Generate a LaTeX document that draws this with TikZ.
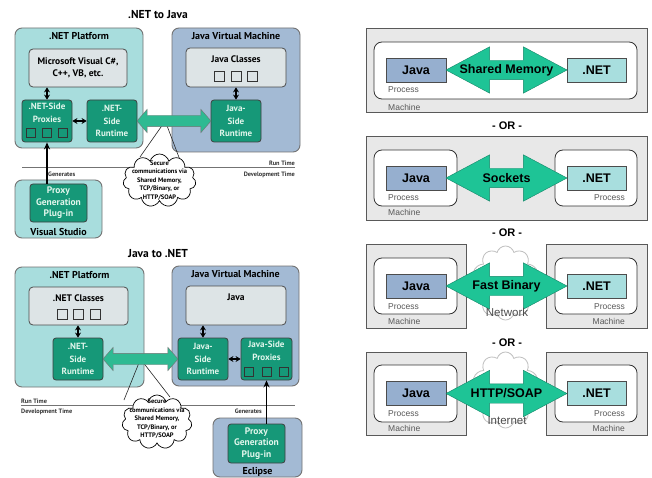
\documentclass[tikz,border=0pt]{standalone}
\usepackage{fontspec}
\setmainfont{PT Sans}
\newfontfamily\arialfont{Liberation Sans}
\usetikzlibrary{shapes.arrows,shapes.symbols,arrows.meta,calc,positioning}

\definecolor{netteal}{RGB}{168,221,221}
\definecolor{jvmblue}{RGB}{163,186,212}
\definecolor{innergray}{RGB}{221,228,230}
\definecolor{boxgreen}{RGB}{22,152,120}
\definecolor{gtext}{RGB}{225,246,236}
\definecolor{pipegreen}{RGB}{46,186,146}
\definecolor{wiregreen}{RGB}{30,196,150}
\definecolor{wireedge}{RGB}{20,135,105}
\definecolor{javablue}{RGB}{150,175,207}
\definecolor{netcyan}{RGB}{168,222,222}
\definecolor{machgray}{RGB}{232,232,232}

\newcommand{\fsz}[2]{\fontsize{#1}{#2}\selectfont}

\tikzset{
  platform/.style={draw=black!55, line width=0.9pt, rounded corners=7pt},
  ptag/.style={font=\bfseries\fsz{10}{12}, inner sep=0pt},
  btag/.style={font=\bfseries\fsz{9.5}{11}, inner sep=0pt},
  inbox/.style={draw=black!70, fill=innergray, line width=0.8pt, rounded corners=4pt},
  gbox/.style={draw=black!75, fill=boxgreen, line width=0.8pt, rounded corners=3pt,
    text=gtext, font=\bfseries\fsz{9}{12.5}, align=center,
    minimum width=50pt, minimum height=42pt, inner sep=0pt},
  sq/.style={draw=black!80, line width=0.7pt},
  link/.style={{Stealth[length=5pt,width=6pt]}-{Stealth[length=5pt,width=6pt]}, line width=1.8pt},
  gen/.style={-{Stealth[length=7pt,width=6pt]}, line width=1.6pt},
  pipe/.style={double arrow, draw=black!55, fill=pipegreen, double arrow tip angle=98,
    double arrow head extend=6pt, inner xsep=0pt, inner ysep=5.5pt},
  talk/.style={cloud, cloud puffs=11, cloud ignores aspect, draw=black, line width=0.7pt,
    fill=white, inner sep=0pt},
  talktext/.style={font=\bfseries\fsz{6.5}{8.5}, align=center},
  small/.style={font=\bfseries\fsz{6.3}{7}, text=black!80, inner sep=0pt},
  % right half
  machine/.style={draw=black!65, fill=machgray, line width=0.8pt},
  procbox/.style={draw=black!80, fill=white, line width=0.8pt, rounded corners=8pt},
  javabox/.style={draw=black!70, fill=javablue, minimum width=60pt, minimum height=24pt,
    font=\arialfont\bfseries\fsz{12.5}{14}, inner sep=0pt},
  netbox/.style={javabox, fill=netcyan, minimum width=59pt},
  wire/.style={double arrow, draw=wireedge, fill=wiregreen, double arrow tip angle=56,
    double arrow head extend=13.5pt, inner xsep=0pt, inner ysep=9.5pt, minimum height=121pt,
    label={[wiretext]center:#1}},
  wiretext/.style={font=\arialfont\bfseries\fsz{12.5}{14}, inner sep=0pt},
  tag/.style={font=\arialfont\fsz{8.5}{10}, text=black!65, inner sep=0pt},
  nettag/.style={font=\arialfont\fsz{11.5}{13}, text=black!70, inner sep=0pt},
  orsep/.style={font=\arialfont\bfseries\fsz{11}{13}},
  net/.style={cloud, cloud puffs=10, cloud ignores aspect, draw=black!25, fill=white,
    line width=0.8pt, inner sep=0pt},
}

\begin{document}
\begin{tikzpicture}[x=1pt,y=-1pt]
\path[use as bounding box, fill=white] (0,0) rectangle (652,478);

% .NET to Java
\node[font=\bfseries\fsz{11.5}{13}] (TitleA) at (158,15) {.NET to Java};
\node[platform, fill=netteal, minimum width=128pt, minimum height=120pt,
  label={[ptag,anchor=north,yshift=-5pt]north:.NET Platform}] (NetPlatformA) at (79,88) {};
\node[inbox, minimum width=98pt, minimum height=38pt, font=\bfseries\fsz{9.5}{12}, align=center]
  (LangsA) at (78,68) {Microsoft Visual C\#,\\C++, VB, etc.};
\node[gbox] (NetProxiesA) at (47,121) {.NET-Side\\Proxies\\\strut};
\node[gbox] (NetRuntimeA) at (112,121) {.NET-\\Side\\Runtime};
\foreach \dx in {-16,0,16}
  \draw[sq] ($(NetProxiesA.center)+(\dx,12)$) +(-4.5,-4.5) rectangle +(4.5,4.5);

\node[platform, fill=jvmblue, minimum width=128pt, minimum height=124pt,
  label={[ptag,anchor=north,yshift=-5pt]north:Java Virtual Machine}] (JvmA) at (236,90) {};
\node[inbox, minimum width=100pt, minimum height=39pt,
  label={[btag,anchor=north,yshift=-8pt]north:Java Classes}] (ClassesA) at (236,67.5) {};
\foreach \dx in {-16.5,0,16.5}
  \draw[sq] ($(ClassesA.center)+(\dx,8.5)$) +(-5,-5) rectangle +(5,5);
\node[gbox] (JavaRuntimeA) at (236,121) {Java-\\Side\\Runtime};

\draw[link] (NetProxiesA.north) -- (NetProxiesA.north |- LangsA.south);
\draw[link] (NetProxiesA.east) -- (NetRuntimeA.west);
\draw[link] (ClassesA.south) -- (JavaRuntimeA.north);

% run time / development time
\coordinate (SplitA1) at (22,167);
\coordinate (SplitA2) at (295,167);
\draw[black!55, line width=0.6pt] (SplitA1) -- (SplitA2);
\node[small, anchor=base east] (RunA) at (295,165.2) {Run Time};
\node[small, anchor=base east] (DevA) at (295,176.2) {Development Time};
\node[small, anchor=base west] (GenA) at (48,176.2) {Generates};

\node[platform, fill=netteal, minimum width=87pt, minimum height=58pt,
  label={[ptag,anchor=south,yshift=3pt]south:Visual Studio}] (StudioA) at (58.5,209) {};
\node[gbox, minimum width=57pt, minimum height=38pt, font=\bfseries\fsz{9.5}{11.5}]
  (PlugA) at (58.5,203) {Proxy\\Generation\\Plug-in};
\draw[gen] (PlugA.north -| NetProxiesA.south) -- (NetProxiesA.south);

% pipe + callout
\coordinate (TalkSpotA) at (159.5,180.5);
\draw[black!85, line width=0.6pt] ($(TalkSpotA)+(-19.5,-23.5)$)
  -- ($(NetRuntimeA.east)!0.38!(JavaRuntimeA.west)$) -- ($(TalkSpotA)+(20.5,-20.5)$);
\node[pipe, minimum height=74pt] (PipeA) at ($(NetRuntimeA.east)!0.5!(JavaRuntimeA.west)$) {};
\node[talk, minimum width=73pt, minimum height=53pt,
  label={[talktext]center:{Secure\\communications via\\Shared Memory,\\TCP/Binary, or\\HTTP/SOAP}}]
  (TalkA) at (TalkSpotA) {};

% Java to .NET
\node[font=\bfseries\fsz{11.5}{13}] (TitleB) at (158,254) {Java to .NET};
\node[platform, fill=netteal, minimum width=129pt, minimum height=120pt,
  label={[ptag,anchor=north,yshift=-5pt]north:.NET Platform}] (NetPlatformB) at (79.5,327) {};
\node[inbox, minimum width=99pt, minimum height=38pt,
  label={[btag,anchor=north,yshift=-7.5pt]north:.NET Classes}] (NetClassesB) at (78.5,306) {};
\foreach \dx in {-16.5,0,16.5}
  \draw[sq] ($(NetClassesB.center)+(\dx,8)$) +(-5,-5) rectangle +(5,5);
\node[gbox] (NetRuntimeB) at (78,359) {.NET-\\Side\\Runtime};

\node[platform, fill=jvmblue, minimum width=127pt, minimum height=120pt,
  label={[ptag,anchor=north,yshift=-5pt]north:Java Virtual Machine}] (JvmB) at (235.5,326) {};
\node[inbox, minimum width=100pt, minimum height=39pt,
  label={[btag,anchor=north,yshift=-8pt]north:Java}] (JavaB) at (236,305.5) {};
\node[gbox] (JavaRuntimeB) at (203,359) {Java-\\Side\\Runtime};
\node[gbox, minimum width=51pt] (JavaProxiesB) at (266.5,359) {Java-Side\\Proxies\\\strut};
\foreach \dx in {-17.5,0,17.5}
  \draw[sq] ($(JavaProxiesB.center)+(\dx,12.5)$) +(-4.5,-4.5) rectangle +(4.5,4.5);

\draw[link] (NetRuntimeB.north |- NetClassesB.south) -- (NetRuntimeB.north);
\draw[link] (JavaRuntimeB.north |- JavaB.south) -- (JavaRuntimeB.north);
\draw[link] (JavaRuntimeB.east) -- (JavaProxiesB.west);

\coordinate (SplitB1) at (21,405);
\coordinate (SplitB2) at (295,405);
\draw[black!55, line width=0.6pt] (SplitB1) -- (SplitB2);
\node[small, anchor=base west] (RunB) at (21,403.2) {Run Time};
\node[small, anchor=base west] (DevB) at (21,413.5) {Development Time};
\node[small, anchor=base east] (GenB) at (262,413.5) {Generates};

\node[platform, fill=jvmblue, minimum width=89pt, minimum height=59pt,
  label={[ptag,anchor=south,yshift=1pt]south:Eclipse}] (EclipseB) at (257.5,447.5) {};
\node[gbox, minimum width=57pt, minimum height=39pt, font=\bfseries\fsz{9.5}{11.5}]
  (PlugB) at (256.5,443.5) {Proxy\\Generation\\Plug-in};
\draw[gen] (PlugB.north -| JavaProxiesB.south) -- (JavaProxiesB.south);

\coordinate (TalkSpotB) at (157,422);
\draw[black!85, line width=0.6pt] ($(TalkSpotB)+(-33,-22)$)
  -- ($(NetRuntimeB.east)!0.5!(JavaRuntimeB.west)$) -- ($(TalkSpotB)+(13,-25)$);
\node[pipe, minimum height=75pt] (PipeB) at ($(NetRuntimeB.east)!0.5!(JavaRuntimeB.west)$) {};
\node[talk, minimum width=70pt, minimum height=54pt,
  label={[talktext,yshift=3pt]center:{Secure\\communications via\\Shared Memory,\\TCP/Binary, or\\HTTP/SOAP}}]
  (TalkB) at (TalkSpotB) {};

% shared memory
\node[machine, minimum width=281pt, minimum height=84pt] (ShmMachine) at (506.5,70) {};
\node[procbox, minimum width=263pt, minimum height=57pt] (ShmProcess) at (505.5,70.5) {};
\node[javabox] (ShmJava) at (416,70) {Java};
\node[netbox] (ShmNet) at (596.5,70) {.NET};
\node[tag, anchor=west] (ShmProcTag) at (388,90) {Process};
\node[tag, anchor=west] (ShmMachTag) at (388,107) {Machine};
\node[wire=Shared Memory] (ShmWire) at ($(ShmJava.east)!0.5!(ShmNet.west)$) {};
\node[orsep] (OrA) at (507,126) {- OR -};

% sockets
\node[machine, minimum width=281pt, minimum height=84pt] (SockMachine) at (506.5,178) {};
\node[procbox, minimum width=83pt, minimum height=56pt] (SockJavaProc) at (415.5,178) {};
\node[procbox, minimum width=82pt, minimum height=56pt] (SockNetProc) at (596,178) {};
\node[javabox] (SockJava) at (416,178) {Java};
\node[netbox] (SockNet) at (596.5,178) {.NET};
\node[tag, anchor=west] (SockJavaTag) at (388,198) {Process};
\node[tag, anchor=east] (SockNetTag) at (625,198) {Process};
\node[tag, anchor=west] (SockMachTag) at (388,212) {Machine};
\node[wire=Sockets] (SockWire) at ($(SockJava.east)!0.5!(SockNet.west)$) {};
\node[orsep] (OrB) at (507,233) {- OR -};

% fast binary
\node[machine, minimum width=100pt, minimum height=84pt] (BinJavaMachine) at (416,286) {};
\node[machine, minimum width=101pt, minimum height=84pt] (BinNetMachine) at (596.5,286) {};
\node[procbox, minimum width=83pt, minimum height=56pt] (BinJavaProc) at (415.5,286) {};
\node[procbox, minimum width=82pt, minimum height=56pt] (BinNetProc) at (596,286) {};
\node[javabox] (BinJava) at (416,286) {Java};
\node[netbox] (BinNet) at (596.5,286) {.NET};
\node[tag, anchor=west] (BinJavaTag) at (388,307) {Process};
\node[tag, anchor=east] (BinNetTag) at (625,307) {Process};
\node[tag, anchor=west] (BinJavaMachTag) at (388,321) {Machine};
\node[tag, anchor=east] (BinNetMachTag) at (625,321) {Machine};
\node[net, minimum width=67pt, minimum height=74pt] (BinCloud) at (505.5,283) {};
\node[wire=Fast Binary] (BinWire) at ($(BinJava.east)!0.5!(BinNet.west)$) {};
\node[nettag] (BinCloudTag) at (507,312) {Network};
\node[orsep] (OrC) at (507,343) {- OR -};

% http/soap
\node[machine, minimum width=100pt, minimum height=83pt] (SoapJavaMachine) at (416,393.5) {};
\node[machine, minimum width=101pt, minimum height=83pt] (SoapNetMachine) at (596.5,393.5) {};
\node[procbox, minimum width=83pt, minimum height=57pt] (SoapJavaProc) at (415.5,393.5) {};
\node[procbox, minimum width=82pt, minimum height=57pt] (SoapNetProc) at (596,393.5) {};
\node[javabox] (SoapJava) at (416,393.5) {Java};
\node[netbox] (SoapNet) at (596.5,393.5) {.NET};
\node[tag, anchor=west] (SoapJavaTag) at (388,414) {Process};
\node[tag, anchor=east] (SoapNetTag) at (625,414) {Process};
\node[tag, anchor=west] (SoapJavaMachTag) at (388,428) {Machine};
\node[tag, anchor=east] (SoapNetMachTag) at (625,428) {Machine};
\node[net, minimum width=67pt, minimum height=76pt] (SoapCloud) at (505.5,390) {};
\node[wire=HTTP/SOAP] (SoapWire) at ($(SoapJava.east)!0.5!(SoapNet.west)$) {};
\node[nettag] (SoapCloudTag) at (507,421) {Internet};
\end{tikzpicture}
\end{document}
